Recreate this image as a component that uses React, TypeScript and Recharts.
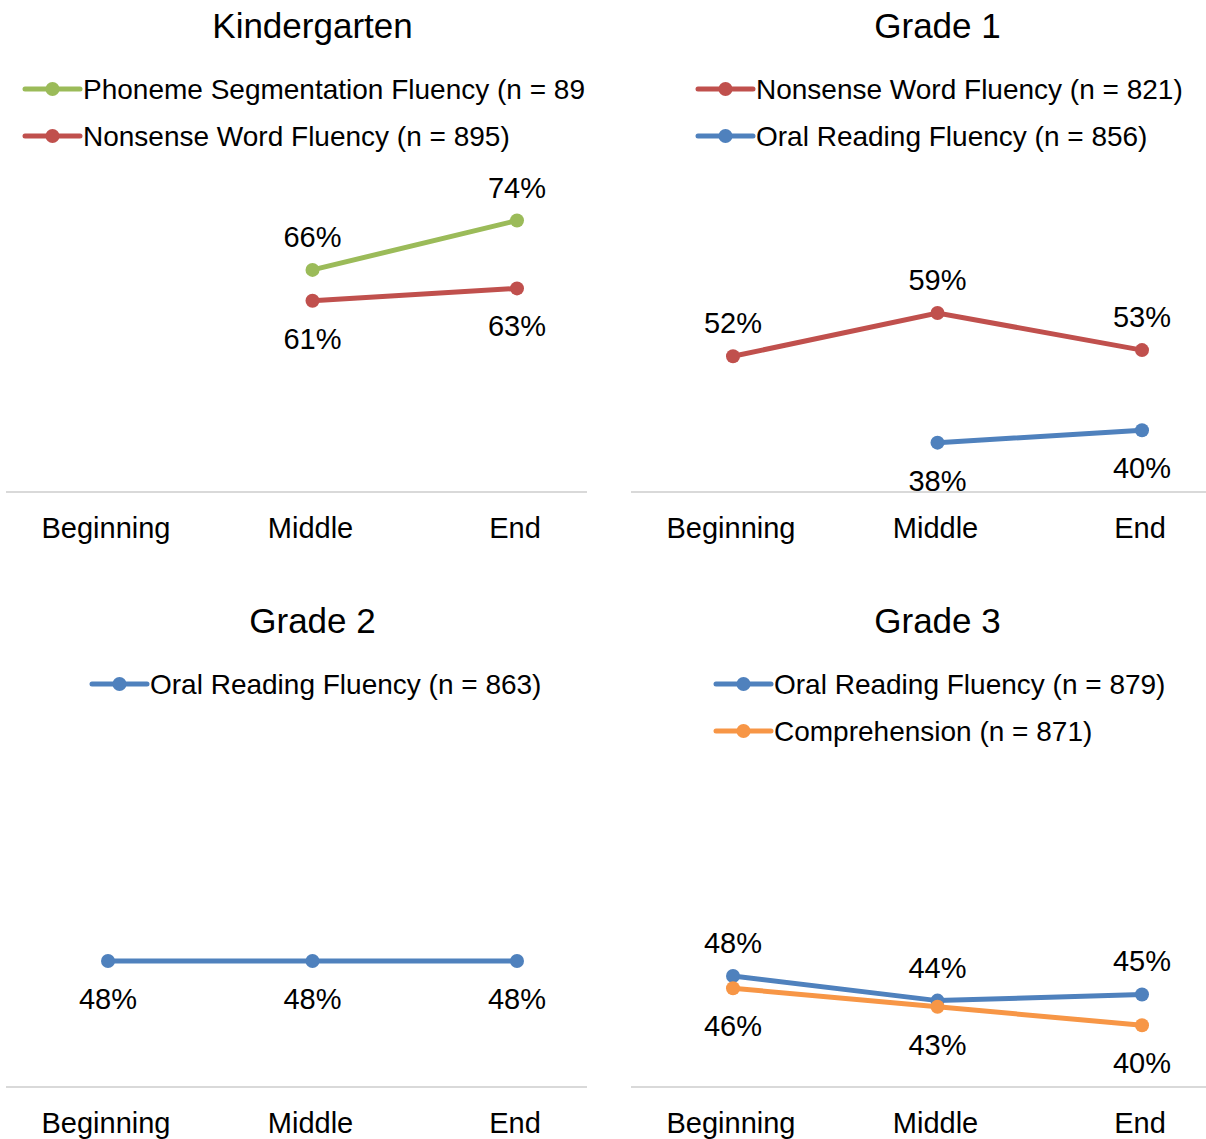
import React from 'react';
import { LineChart, Line, XAxis, YAxis, Legend } from 'recharts';

const stages = ['Beginning', 'Middle', 'End'];

const kPSF = [null, 66, 74];
const kNWF = [null, 61, 63];
const g1NWF = [52, 59, 53];
const g1ORF = [null, 38, 40];
const g2ORF = [48, 48, 48];
const g3ORF = [48, 44, 45];
const g3Comp = [46, 43, 40];

const GREEN = '#9BBB59';
const RED = '#C0504D';
const BLUE = '#4F81BD';
const ORANGE = '#F79646';
const FONT = '"Liberation Sans", Arial, Helvetica, sans-serif';

type Series = { key: string; name: string; values: (number | null)[]; color: string; pos: 'above' | 'below' };
type Panel = {
  title: string;
  series: Series[];
  left: number; top: number; w: number; h: number;
  mLeft: number; mTop: number; plotBottom: number;
  padL: number; padR: number; legendX: number; titleX: number;
};

const panels: Panel[] = [
  {
    title: 'Kindergarten',
    series: [
      { key: 'psf', name: 'Phoneme Segmentation Fluency (n = 89', values: kPSF, color: GREEN, pos: 'above' },
      { key: 'nwf', name: 'Nonsense Word Fluency (n = 895)', values: kNWF, color: RED, pos: 'below' },
    ],
    left: 0, top: 0, w: 587, h: 560, mLeft: 6, mTop: 183.5, plotBottom: 492,
    padL: 102, padR: 70, legendX: 25, titleX: 312.5,
  },
  {
    title: 'Grade 1',
    series: [
      { key: 'nwf', name: 'Nonsense Word Fluency (n = 821)', values: g1NWF, color: RED, pos: 'above' },
      { key: 'orf', name: 'Oral Reading Fluency (n = 856)', values: g1ORF, color: BLUE, pos: 'below' },
    ],
    left: 600, top: 0, w: 606, h: 560, mLeft: 31, mTop: 183.5, plotBottom: 492,
    padL: 102, padR: 64, legendX: 98, titleX: 337.5,
  },
  {
    title: 'Grade 2',
    series: [
      { key: 'orf', name: 'Oral Reading Fluency (n = 863)', values: g2ORF, color: BLUE, pos: 'below' },
    ],
    left: 0, top: 595, w: 587, h: 544, mLeft: 6, mTop: 142, plotBottom: 492,
    padL: 102, padR: 70, legendX: 92, titleX: 312.5,
  },
  {
    title: 'Grade 3',
    series: [
      { key: 'orf', name: 'Oral Reading Fluency (n = 879)', values: g3ORF, color: BLUE, pos: 'above' },
      { key: 'comp', name: 'Comprehension (n = 871)', values: g3Comp, color: ORANGE, pos: 'below' },
    ],
    left: 600, top: 595, w: 606, h: 544, mLeft: 31, mTop: 183.5, plotBottom: 492,
    padL: 102, padR: 64, legendX: 116, titleX: 337.5,
  },
];

const makeLabel = (pos: 'above' | 'below') => (props: any) => {
  const { x, y, value, index } = props;
  if (value == null || y == null || x == null) return null;
  return (
    <text
      key={`lbl-${index}`}
      x={x}
      y={pos === 'above' ? y - 23 : y + 48}
      textAnchor="middle"
      fontSize={29}
      fontFamily={FONT}
      fill="#000"
    >
      {value}%
    </text>
  );
};

const Tick = (props: any) => {
  const { x, y, payload } = props;
  return (
    <text x={x - 2} y={y + 46} textAnchor="middle" fontSize={29} fontFamily={FONT} fill="#000">
      {payload.value}
    </text>
  );
};

const legendContent = (p: Panel) => () => (
  <svg width={p.w} height={160} style={{ display: 'block', overflow: 'hidden' }}>
    <text x={p.titleX} y={38} textAnchor="middle" fontSize={35} fontFamily={FONT} fill="#000">
      {p.title}
    </text>
    {p.series.map((s, i) => {
      const cy = 89 + 47 * i;
      return (
        <g key={s.key}>
          <line x1={p.legendX} x2={p.legendX + 55} y1={cy} y2={cy} stroke={s.color} strokeWidth={5} strokeLinecap="round" />
          <circle cx={p.legendX + 27.5} cy={cy} r={7} fill={s.color} />
          <text x={p.legendX + 58} y={cy + 10} fontSize={28} fontFamily={FONT} fill="#000">
            {s.name}
          </text>
        </g>
      );
    })}
  </svg>
);

const ChartPanel = ({ p }: { p: Panel }) => {
  const data = stages.map((s, i) => {
    const row: any = { stage: s };
    p.series.forEach((se) => {
      row[se.key] = se.values[i];
    });
    return row;
  });
  const xAxisH = 50;
  const mBottom = p.h - p.plotBottom - xAxisH;
  return (
    <div style={{ position: 'absolute', left: p.left, top: p.top, width: p.w, height: p.h, overflow: 'hidden' }}>
      <LineChart
        width={p.w}
        height={p.h}
        data={data}
        margin={{ top: p.mTop, left: p.mLeft, right: 0, bottom: mBottom }}
      >
        <XAxis
          dataKey="stage"
          type="category"
          height={xAxisH}
          axisLine={{ stroke: '#D9D9D9', strokeWidth: 2 }}
          tickLine={false}
          tickSize={0}
          tickMargin={0}
          padding={{ left: p.padL, right: p.padR }}
          tick={<Tick />}
          interval={0}
        />
        <YAxis hide domain={[30, 80]} allowDataOverflow type="number" />
        <Legend
          verticalAlign="middle"
          align="center"
          layout="horizontal"
          content={legendContent(p)}
          wrapperStyle={{ top: 0, left: 0, width: p.w, height: 160 }}
        />
        {p.series.map((s) => (
          <Line
            key={s.key}
            dataKey={s.key}
            name={s.name}
            stroke={s.color}
            strokeWidth={5}
            strokeLinecap="round"
            dot={{ r: 7, fill: s.color, stroke: s.color, strokeWidth: 0 }}
            activeDot={false}
            connectNulls={false}
            isAnimationActive={false}
            label={makeLabel(s.pos)}
          />
        ))}
      </LineChart>
    </div>
  );
};

export default function App() {
  return (
    <div style={{ position: 'absolute', left: 0, top: 0, width: 1206, height: 1139, background: '#fff', fontFamily: FONT }}>
      {panels.map((p) => (
        <ChartPanel key={p.title} p={p} />
      ))}
    </div>
  );
}
